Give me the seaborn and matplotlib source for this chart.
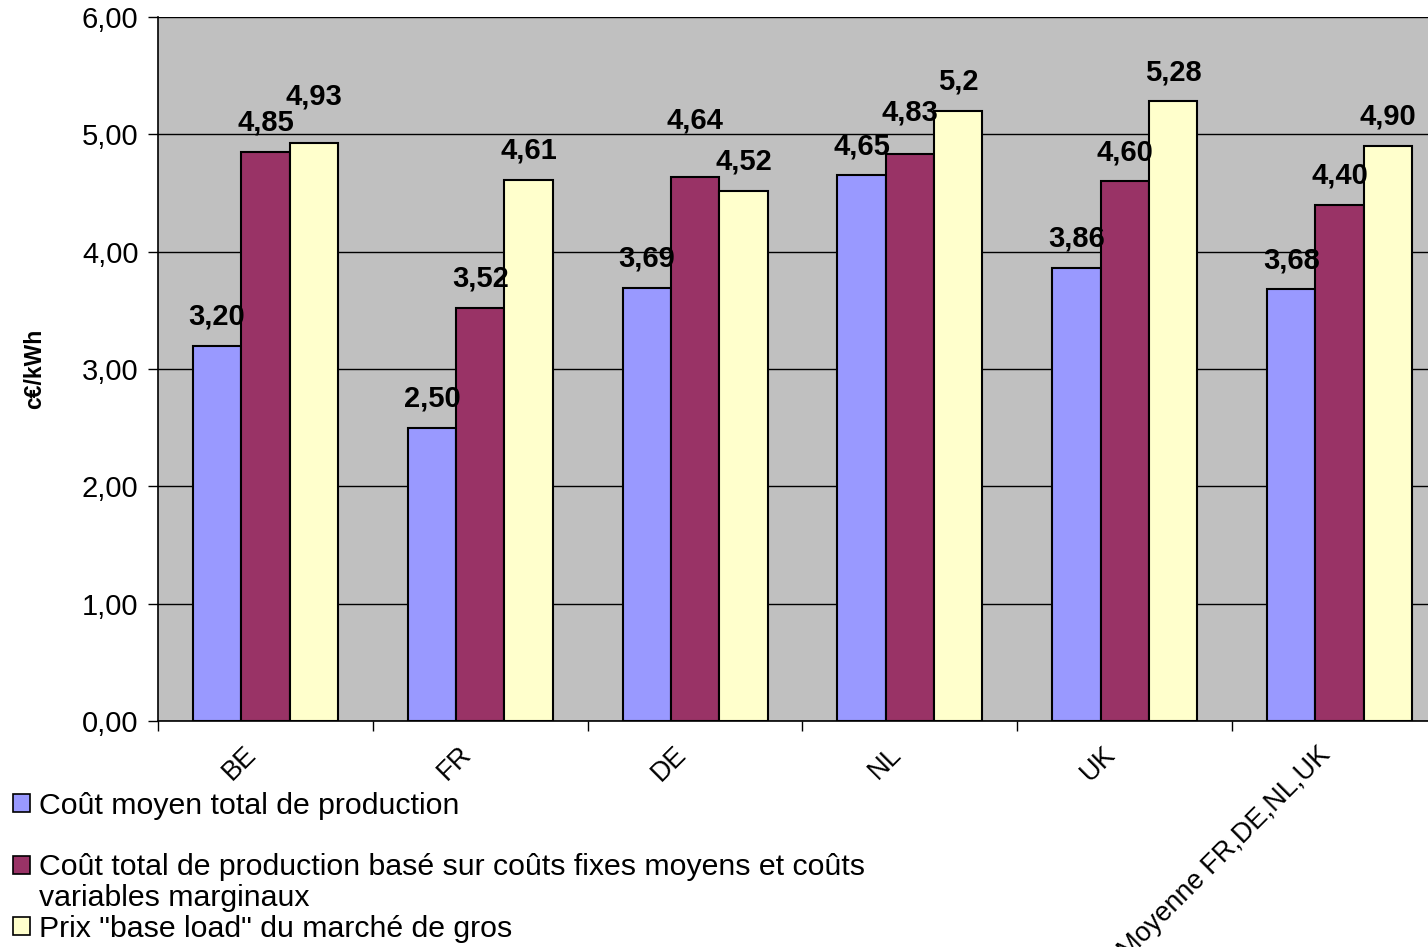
import matplotlib
matplotlib.use("Agg")
import matplotlib.pyplot as plt
from matplotlib.patches import Rectangle
from matplotlib.ticker import FuncFormatter, FixedLocator
from matplotlib.transforms import ScaledTranslation
import seaborn as sns
import pandas as pd

# data
categories = ["BE", "FR", "DE", "NL", "UK", "Moyenne FR,DE,NL,UK"]
series = [
    "Coût moyen total de production",
    "Coût total de production basé sur coûts fixes moyens et coûts variables marginaux",
    'Prix "base load" du marché de gros',
]
cout_moyen = [3.20, 2.50, 3.69, 4.65, 3.86, 3.68]
cout_marginal = [4.85, 3.52, 4.64, 4.83, 4.60, 4.40]
prix_base = [4.93, 4.61, 4.52, 5.2, 5.28, 4.90]
labels_moyen = ["3,20", "2,50", "3,69", "4,65", "3,86", "3,68"]
labels_marginal = ["4,85", "3,52", "4,64", "4,83", "4,60", "4,40"]
labels_base = ["4,93", "4,61", "4,52", "5,2", "5,28", "4,90"]

colors = ["#9999FF", "#993366", "#FFFFCC"]

df = pd.DataFrame({
    "pays": categories * 3,
    "serie": [series[0]] * 6 + [series[1]] * 6 + [series[2]] * 6,
    "valeur": cout_moyen + cout_marginal + prix_base,
})

sns.set_style("white")
plt.rcParams["font.family"] = ["Liberation Sans", "DejaVu Sans"]
for k in ["text.color", "axes.labelcolor", "xtick.color", "ytick.color"]:
    plt.rcParams[k] = "black"

fig = plt.figure(figsize=(14.28, 9.47), dpi=100)
ax = fig.add_axes([158 / 1428, 226 / 947, 1289 / 1428, 704 / 947])
ax.set_facecolor("#C0C0C0")

sns.barplot(data=df, x="pays", y="valeur", hue="serie", hue_order=series,
            order=categories, palette=colors, saturation=1, width=0.675,
            edgecolor="black", linewidth=1.5, legend=False, ax=ax, zorder=3)

ax.set_xlim(-0.5, 5.5)
ax.set_ylim(0, 6)
ax.yaxis.set_major_locator(FixedLocator([0, 1, 2, 3, 4, 5, 6]))
ax.yaxis.set_major_formatter(FuncFormatter(lambda v, p: f"{v:.2f}".replace(".", ",")))
ax.grid(axis="y", color="black", linewidth=1, zorder=1)
ax.set_axisbelow(True)

for s in ["top", "right"]:
    ax.spines[s].set_visible(False)
for s in ["left", "bottom"]:
    ax.spines[s].set_color("black")
    ax.spines[s].set_linewidth(1.2)
    ax.spines[s].set_zorder(4)

# x ticks at category boundaries, labels at centres
ax.set_xticks([i - 0.5 for i in range(7)])
ax.set_xticklabels([])
ax.set_xticks(range(len(categories)), minor=True)
ax.set_xticklabels(categories, minor=True, rotation=45, ha="right", va="top",
                   rotation_mode="anchor", fontsize=19.5)
ax.tick_params(axis="x", which="minor", length=0, pad=14)
ax.tick_params(axis="x", which="major", length=7, width=1, color="black", direction="out", bottom=True)
ax.tick_params(axis="y", length=7, width=1, color="black", direction="out", left=True, labelsize=21, pad=7)
shift = ScaledTranslation(-22 / 100, -1 / 100, fig.dpi_scale_trans)
for lbl in ax.get_xticklabels(minor=True):
    lbl.set_transform(lbl.get_transform() + shift)
ax.set_xlabel("")
ax.set_ylabel("c€/kWh", fontsize=16.5, fontweight="bold", labelpad=26)

# value labels
all_labels = [labels_moyen, labels_marginal, labels_base]
lift = {(1, 2): 27, (1, 3): 13, (2, 0): 17}
for si, cont in enumerate(ax.containers):
    for ci, bar in enumerate(cont):
        x = bar.get_x() + bar.get_width() / 2
        y = bar.get_height()
        ax.annotate(all_labels[si][ci], (x, y), xytext=(0, 21 + lift.get((si, ci), 0) * 0.72),
                    textcoords="offset points", ha="center", va="center",
                    fontsize=21, fontweight="bold", zorder=5)

# legend (wrapped like the original)
blank = Rectangle((0, 0), 1, 1, visible=False)
handles = [
    Rectangle((0, 0), 1, 1, facecolor=colors[0], edgecolor="black", linewidth=1.2),
    blank,
    Rectangle((0, 0), 1, 1, facecolor=colors[1], edgecolor="black", linewidth=1.2),
    blank,
    Rectangle((0, 0), 1, 1, facecolor=colors[2], edgecolor="black", linewidth=1.2),
]
leg_labels = [
    series[0],
    " ",
    "Coût total de production basé sur coûts fixes moyens et coûts",
    "variables marginaux",
    series[2],
]
fig.legend(handles, leg_labels, loc="upper left", bbox_to_anchor=(13 / 1428, 1 - 792 / 947),
           frameon=False, fontsize=21.8, labelspacing=0.09, handlelength=0.55,
           handleheight=0.55, handletextpad=0.3, borderpad=0, borderaxespad=0)

fig.savefig("out.png", dpi=100)
